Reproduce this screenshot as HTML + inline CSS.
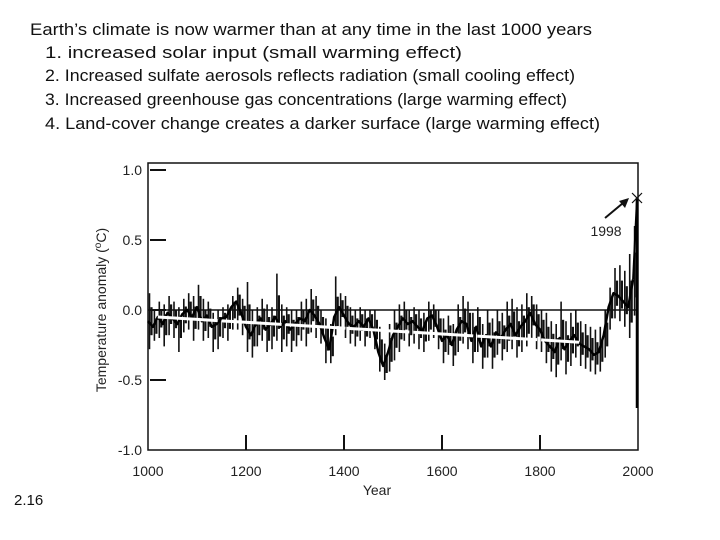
<!DOCTYPE html>
<html><head><meta charset="utf-8"><style>
body{margin:0;background:#fff;}
svg{display:block;}
.t{font-family:"Liberation Sans",sans-serif;font-size:17px;fill:#111;}
.a{font-family:"Liberation Sans",sans-serif;font-size:14px;fill:#222;}
</style></head><body>
<svg id="c" width="720" height="540" viewBox="0 0 720 540">
<text class="t" x="30" y="35" textLength="562" lengthAdjust="spacingAndGlyphs">Earth’s climate is now warmer than at any time in the last 1000 years</text>
<text class="t" x="45" y="58" textLength="417" lengthAdjust="spacingAndGlyphs">1.  increased solar input (small warming effect)</text>
<text class="t" x="45" y="81" textLength="530" lengthAdjust="spacingAndGlyphs">2. Increased sulfate aerosols reflects radiation (small cooling effect)</text>
<text class="t" x="45" y="105" textLength="522" lengthAdjust="spacingAndGlyphs">3. Increased greenhouse gas concentrations (large warming effect)</text>
<text class="t" x="45" y="129" textLength="555" lengthAdjust="spacingAndGlyphs">4. Land-cover change creates a darker surface (large warming effect)</text>
<text class="t" x="14" y="505" style="font-size:15px">2.16</text>
<g id="plot"></g>
</svg>
<script>
const years=[];for(let i=0;i<100;i++)years.push(1000+i*10);
const values=[-0.08,-0.12,-0.05,-0.10,-0.02,-0.06,-0.10,-0.03,0.0,-0.05,
0.02,-0.08,-0.04,-0.12,-0.10,-0.06,-0.05,0.02,0.06,-0.02,
-0.12,-0.18,-0.10,-0.06,-0.14,-0.10,-0.05,-0.12,-0.08,-0.14,
-0.10,-0.06,-0.08,0.0,-0.04,-0.10,-0.20,-0.28,-0.05,0.02,
-0.04,-0.10,-0.12,-0.08,-0.12,-0.06,-0.14,-0.30,-0.40,-0.30,
-0.18,-0.12,-0.06,-0.10,-0.08,-0.12,-0.15,-0.06,-0.04,-0.12,
-0.22,-0.18,-0.25,-0.14,-0.08,-0.10,-0.22,-0.12,-0.26,-0.18,
-0.26,-0.16,-0.20,-0.14,-0.10,-0.18,-0.12,-0.08,-0.02,-0.10,
-0.14,-0.22,-0.26,-0.30,-0.20,-0.28,-0.22,-0.18,-0.24,-0.26,
-0.28,-0.32,-0.30,-0.18,0.02,0.12,0.10,0.06,0.02,0.22];
const highs=[0.12,0.0,0.06,0.04,0.10,0.06,0.02,0.08,0.12,0.10,
0.18,0.08,0.06,-0.02,0.0,0.02,0.04,0.10,0.16,0.08,
0.20,0.0,0.02,0.08,0.04,0.02,0.26,0.04,0.02,0.0,
0.0,0.06,0.08,0.15,0.10,0.0,-0.06,-0.10,0.24,0.12,
0.10,0.02,0.0,0.02,0.0,0.0,0.0,-0.12,-0.24,-0.10,
0.0,0.04,0.06,0.0,0.02,0.0,-0.02,0.06,0.04,0.0,
-0.06,-0.04,-0.10,0.04,0.10,0.06,-0.02,0.02,-0.10,0.0,
-0.06,0.0,-0.02,0.06,0.08,0.02,0.04,0.12,0.10,0.04,
0.0,-0.02,-0.08,-0.10,0.06,-0.08,-0.02,0.0,-0.08,-0.10,
-0.12,-0.14,-0.12,0.0,0.16,0.30,0.32,0.28,0.40,0.60];
const lows=[-0.28,-0.22,-0.20,-0.26,-0.18,-0.20,-0.30,-0.16,-0.14,-0.22,
-0.14,-0.22,-0.20,-0.30,-0.28,-0.20,-0.22,-0.14,-0.14,-0.18,
-0.30,-0.34,-0.26,-0.22,-0.30,-0.28,-0.22,-0.30,-0.26,-0.30,
-0.26,-0.22,-0.26,-0.16,-0.20,-0.24,-0.38,-0.38,-0.18,-0.12,
-0.20,-0.24,-0.26,-0.22,-0.26,-0.20,-0.28,-0.44,-0.50,-0.44,
-0.36,-0.30,-0.22,-0.26,-0.24,-0.28,-0.30,-0.22,-0.20,-0.28,
-0.38,-0.32,-0.40,-0.30,-0.24,-0.28,-0.38,-0.30,-0.42,-0.34,
-0.42,-0.32,-0.36,-0.30,-0.28,-0.34,-0.30,-0.26,-0.20,-0.28,
-0.30,-0.38,-0.44,-0.48,-0.36,-0.46,-0.40,-0.34,-0.40,-0.42,
-0.44,-0.46,-0.44,-0.34,-0.14,-0.06,-0.08,-0.12,-0.20,-0.04];
const yTicks=[1.0,0.5,0.0,-0.5,-1.0];
const yTickLabels=["1.0","0.5","0.0","-0.5","-1.0"];
const xTicks=[1000,1200,1400,1600,1800,2000];
const trendYears=[1020,1880];
const trendValues=[-0.05,-0.23];
const peakYear=[1998];const peakValue=[0.80];

const NS="http://www.w3.org/2000/svg";
const g=document.getElementById('plot');
const X0=148,X1=638,Y0=450,YT=163;
const x=yr=>X0+(yr-1000)*(X1-X0)/1000;
const y=v=>310-v*140;
function mk(tag,at,parent){const e=document.createElementNS(NS,tag);for(const k in at)e.setAttribute(k,at[k]);(parent||g).appendChild(e);return e;}

let e=mk('rect',{x:X0,y:YT,width:X1-X0,height:Y0-YT,fill:'none',stroke:'#111','stroke-width':1.5});


e=mk('line',{x1:X0,x2:X1,y1:y(0),y2:y(0),stroke:'#111','stroke-width':1.5});


yTicks.forEach((v,i)=>{
 if(v>-1){e=mk('line',{x1:X0+2,x2:X0+18,y1:y(v),y2:y(v),stroke:'#111','stroke-width':2});
 
 }
 e=mk('text',{x:142,y:(v>-1?y(v):Y0)+5,'text-anchor':'end',class:'a'});e.textContent=yTickLabels[i];
 
 
});
xTicks.forEach(t=>{
 if(t>1000&&t<2000){e=mk('line',{x1:x(t),x2:x(t),y1:Y0-15,y2:Y0,stroke:'#111','stroke-width':2});
 
 }
 e=mk('text',{x:x(t),y:476,'text-anchor':'middle',class:'a'});e.textContent=t;
 
 
});
e=mk('text',{x:377,y:495,'text-anchor':'middle',class:'a'});e.textContent='Year';


e=mk('text',{x:0,y:0,'text-anchor':'middle',class:'a',transform:'translate(106,310) rotate(-90)'});e.innerHTML='Temperature anomaly (<tspan dy="-5" font-size="10">o</tspan><tspan dy="5">C)</tspan>';



years.forEach((yr,i)=>{
 e=mk('line',{x1:x(yr)+1.5,x2:x(yr)+1.5,y1:y(highs[i]),y2:y(lows[i]),stroke:'#111','stroke-width':1.6});
 
 
 e=mk('line',{x1:x(yr)+3.5,x2:x(yr)+3.5,y1:y((highs[i]+values[i])/2),y2:y((lows[i]+values[i])/2),stroke:'#111','stroke-width':2.2});
 
 
});
e=mk('polyline',{points:years.map((yr,i)=>x(yr)+','+y(values[i])).join(' '),fill:'none',stroke:'#000','stroke-width':2.5,'stroke-linejoin':'round'});


e=mk('line',{x1:x(1990),x2:x(peakYear[0]),y1:y(values[99]),y2:y(peakValue[0]),stroke:'#000','stroke-width':2});


e=mk('line',{x1:X1-1,x2:X1-1,y1:y(peakValue[0]),y2:y(-0.7),stroke:'#000','stroke-width':2.5});


e=mk('line',{x1:x(trendYears[0]),x2:x(trendYears[1]),y1:y(trendValues[0]),y2:y(trendValues[1]),stroke:'#fff','stroke-width':3,'stroke-dasharray':'60 4'});


const px=x(peakYear[0]),py=y(peakValue[0]);
e=mk('path',{d:`M${px-5} ${py-5}L${px+5} ${py+5}M${px-5} ${py+5}L${px+5} ${py-5}`,stroke:'#111','stroke-width':1.2,fill:'none'});


e=mk('line',{x1:px-32,y1:py+20,x2:px-14,y2:py+5,stroke:'#111','stroke-width':2});


e=mk('path',{d:`M${px-8} ${py}L${px-18} ${py+3}L${px-12} ${py+10}Z`,fill:'#111'});


e=mk('text',{x:px-31,y:py+38,'text-anchor':'middle',class:'a'});e.textContent='1998';


</script>
</body></html>
